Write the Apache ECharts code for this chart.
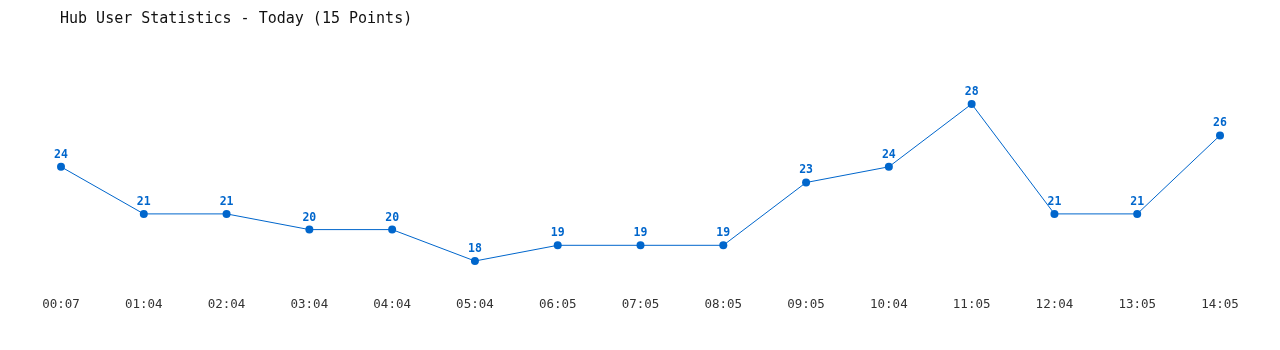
<!DOCTYPE html>
<html><head><meta charset="utf-8">
<script src="https://cdn.jsdelivr.net/npm/echarts@6/dist/echarts.min.js"></script>
<style>html,body{margin:0;padding:0;background:#fff}#c{width:1280px;height:350px}</style>
</head><body><div id="c"></div>
<script>
const titleText = "Hub User Statistics - Today (15 Points)";
const categories = ["00:07","01:04","02:04","03:04","04:04","05:04","06:05","07:05","08:05","09:05","10:04","11:05","12:04","13:05","14:05"];
const users = [24,21,21,20,20,18,19,19,19,23,24,28,21,21,26];

const chart = echarts.init(document.getElementById('c'));
chart.setOption({
  backgroundColor: '#fff',
  animation: false,
  title: {
    text: titleText, left: 55, top: 7,
    textStyle: { fontFamily: 'DejaVu Sans Mono', fontSize: 15, fontWeight: 'normal', color: '#111' }
  },
  grid: { left: 61, right: 60, top: 72.6, bottom: 57.6 },
  xAxis: {
    type: 'category', data: categories, boundaryGap: false,
    axisLine: { show: false }, axisTick: { show: false }, splitLine: { show: false },
    axisLabel: { fontFamily: 'DejaVu Sans Mono', fontSize: 12.5, color: '#333', margin: 6 }
  },
  yAxis: {
    type: 'value', min: 16, max: 30, show: false
  },
  series: [{
    type: 'line', data: users,
    symbol: 'circle', symbolSize: 8,
    itemStyle: { color: '#0066cc' },
    lineStyle: { color: '#0066cc', width: 1 },
    label: { show: true, position: 'top', distance: 2, fontFamily: 'DejaVu Sans Mono', fontWeight: 'bold', fontSize: 11.5, color: '#0066cc' }
  }]
});
</script></body></html>
